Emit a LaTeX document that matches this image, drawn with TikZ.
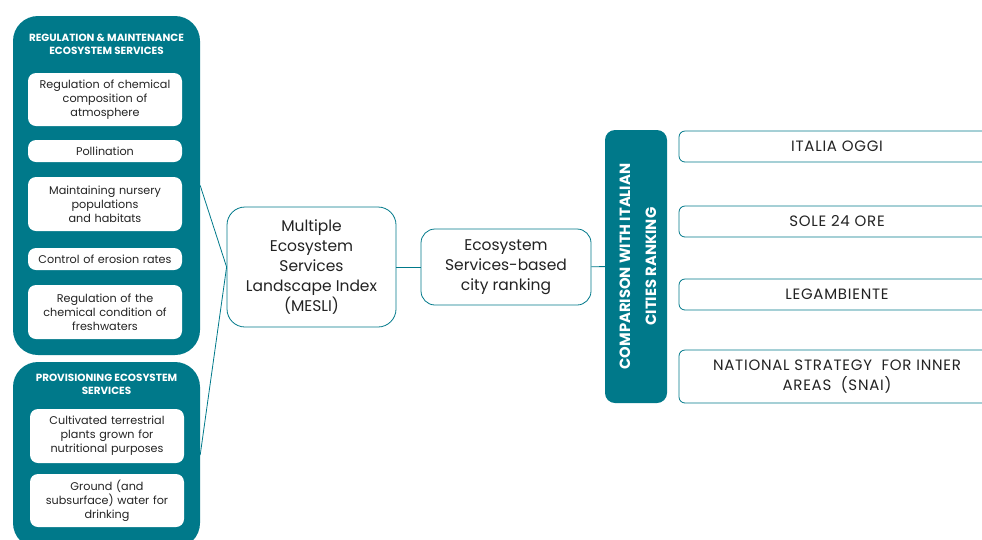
\documentclass[tikz,border=0pt]{standalone}
\usepackage{fontspec}
\setmainfont{Poppins}

\definecolor{esteal}{RGB}{0,121,138}
\definecolor{estext}{RGB}{35,35,35}

\tikzset{
  panel/.style={fill=esteal, rounded corners=25pt, inner sep=0pt},
  paneltitle/.style={text=white, align=center, font=\bfseries\fontsize{10.4}{13}\selectfont},
  service/.style={fill=white, rounded corners=8pt, inner sep=0pt, minimum width=154pt,
    text width=152pt, align=center, text=estext, font=\fontsize{11.2}{14}\selectfont},
  stage/.style={draw=esteal, line width=0.8pt, fill=white, inner sep=0pt, align=center,
    text=estext, font=\fontsize{15.5}{20}\selectfont},
  rankbox/.style={draw=esteal, line width=0.8pt, fill=white, rounded corners=6pt, inner sep=0pt,
    minimum width=316pt, align=center, text=estext,
    font=\fontsize{15}{20}\selectfont\addfontfeature{LetterSpace=5}},
  link/.style={draw=esteal, line width=0.8pt}
}

\begin{document}
\begin{tikzpicture}[x=1pt,y=-1pt]
	\useasboundingbox (0,0) rectangle (982,539);
	\clip (0,0) rectangle (982,539);

	% ecosystem service groups
	\node[panel, minimum width=187pt, minimum height=339pt] (reg) at (106.5,185.5) {};
	\node[paneltitle] (regtitle) at (106.5,44.5) {REGULATION \& MAINTENANCE\\ECOSYSTEM SERVICES};
	\node[panel, minimum width=187pt, minimum height=186pt] (prov) at (106.5,455) {};
	\node[paneltitle] (provtitle) at (106.5,384.5) {PROVISIONING ECOSYSTEM\\SERVICES};

	\node[service, minimum height=53pt] (atm) at (105,99.5) {Regulation of chemical\\composition of\\atmosphere};
	\node[service, minimum height=22pt] (poll) at (105,151) {Pollination};
	\node[service, minimum height=54pt] (nurs) at (105,204) {Maintaining nursery\\populations\\and habitats};
	\node[service, minimum height=22pt] (eros) at (105,259) {Control of erosion rates};
	\node[service, minimum height=54pt] (fresh) at (105,312) {Regulation of the\\chemical condition of\\freshwaters};
	\node[service, minimum height=54pt] (crop) at (107,436) {Cultivated terrestrial\\plants grown for\\nutritional purposes};
	\node[service, minimum height=53pt] (water) at (107,500.5) {Ground (and\\subsurface) water for\\drinking};

	% index and ranking
	\node[stage, rounded corners=18pt, minimum width=169pt, minimum height=120pt] (mesli) at (311.5,267)
		{Multiple\\Ecosystem\\Services\\Landscape Index\\(MESLI)};
	\node[stage, rounded corners=14pt, minimum width=170pt, minimum height=76pt] (rank) at (506,267)
		{Ecosystem\\Services-based\\city ranking};
	\node[fill=esteal, rounded corners=10pt, minimum width=62pt, minimum height=273pt] (comp) at (636,266.5) {};
	\node[rotate=90, text=white, align=center, font=\bfseries\fontsize{14.8}{26}\selectfont] (comptitle) at ([xshift=2pt]comp.center)
		{COMPARISON WITH ITALIAN\\CITIES RANKING};

	\node[rankbox, minimum height=31pt] (oggi) at (837,146.5) {ITALIA OGGI};
	\node[rankbox, minimum height=31pt] (sole) at (837,221.5) {SOLE 24 ORE};
	\node[rankbox, minimum height=31pt] (lega) at (837,294.5) {LEGAMBIENTE};
	\node[rankbox, minimum height=53pt] (snai) at (837,376.5) {NATIONAL STRATEGY~ FOR INNER\\AREAS~ (SNAI)};

	\draw[link] (reg.east) -- (mesli.west);
	\draw[link] (prov.east) -- (mesli.west);
	\draw[link] (mesli) -- (rank);
	\draw[link] (rank) -- (comp);
\end{tikzpicture}
\end{document}
